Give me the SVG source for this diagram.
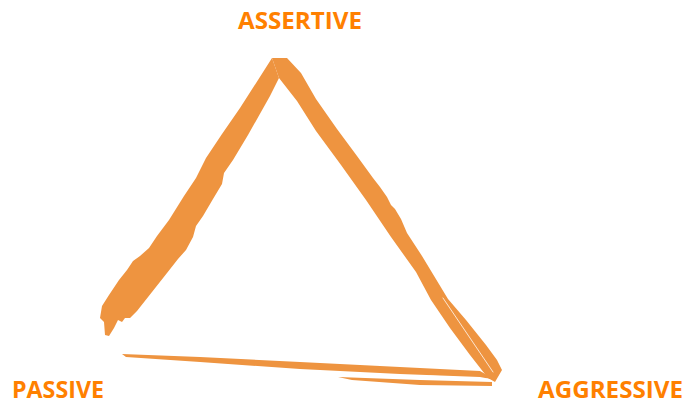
<svg xmlns="http://www.w3.org/2000/svg" width="688" height="403" viewBox="0 0 688 403">
<style>
.lbl{font-family:"Open Sans","Liberation Sans",sans-serif;font-weight:700;font-size:22.5px;fill:#FF8000}
.brush{fill:#EE9440}
.gap{fill:none;stroke:#ffffff;stroke-width:0.9;stroke-linecap:round;opacity:0.85}
</style>
<rect width="688" height="403" fill="#ffffff"/>
<g id="connectors">
<path class="brush" d="M272,58 L258,80 L240,108 L222,134 L206,158 L196,178 L184,196 L169,220 L157,236 L149,248 L140,256 L133,261 L127,270 L119,280 L109,295 L102,306 L100,318 L104,322 L105,335 L109,336 L114,328 L118,320 L122,322 L125,318 L130,318 L137,311 L152,292 L167,273 L178,259 L186,250 L193,237 L196,226 L203,216 L213,199 L222,184 L224,173 L233,160 L248,135 L261,112 L270,96 L279,78 Z"/>
<path class="brush" d="M272,58 L287,58 L301,73 L316,99 L337,129 L357,156 L373,178 L380,187 L387,197 L391,205 L395,209 L401,219 L407,233 L422,256 L448,299 L466,320 L486,345 L497,360 L502,370 L495,382 L488,378 L470,355 L450,328 L431,300 L416,272 L391,237 L366,200 L341,165 L316,131 L297,101 L279,78 Z"/>
<path class="brush" d="M122,354 L200,357 L300,362 L400,367 L480,371 L496,380 L480,377 L400,374 L300,369 L200,362 L126,357 Z"/>
<path class="brush" d="M338,377 L420,380 L492,382 L492,386 L420,385 L352,380 Z"/>
<path class="gap" d="M443,298 L470,338 L493,372"/>
<path class="gap" d="M430,376 L488,379"/>
</g>
<g id="node-assertive"><text class="lbl" x="238" y="29" textLength="124" lengthAdjust="spacingAndGlyphs">ASSERTIVE</text></g>
<g id="node-passive"><text class="lbl" x="12" y="397.5" textLength="92" lengthAdjust="spacingAndGlyphs">PASSIVE</text></g>
<g id="node-aggressive"><text class="lbl" x="538" y="397.5" textLength="145" lengthAdjust="spacingAndGlyphs">AGGRESSIVE</text></g>
</svg>
